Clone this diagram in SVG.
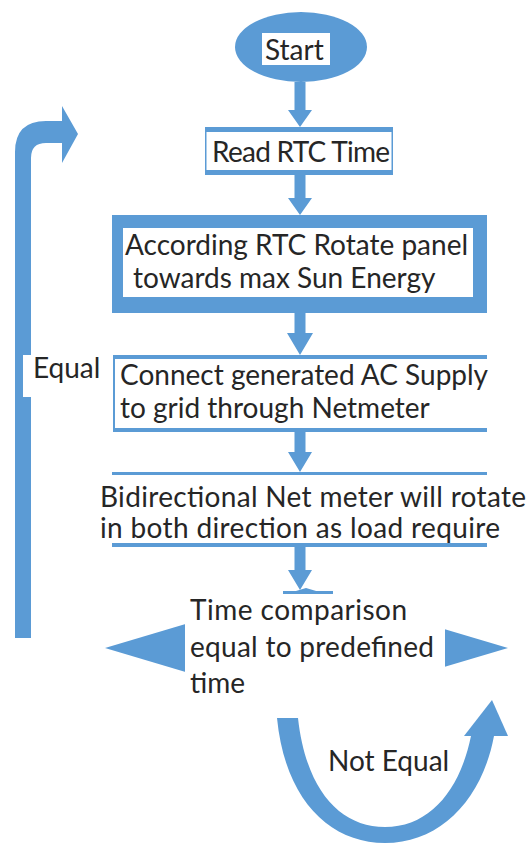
<svg xmlns="http://www.w3.org/2000/svg" width="529" height="844" viewBox="0 0 529 844">
<style>
.b{fill:#5b9bd5}
.w{fill:#ffffff}
.t{font-family:Lato,"Open Sans","Liberation Sans",sans-serif;font-size:28px;fill:#262626}
</style>
<rect width="529" height="844" fill="#ffffff"/>
<g id="connectors" class="b">
  <!-- Start -> Read RTC -->
  <polygon points="294.5,82 305.5,82 305.5,110 312,110 300,127 288,110 294.5,110"/>
  <!-- Read -> Rotate -->
  <polygon points="294.5,175 305.5,175 305.5,198 312,198 300,215 288,198 294.5,198"/>
  <!-- Rotate -> Connect -->
  <polygon points="294.5,313 305.5,313 305.5,333 313,333 300,355 287,333 294.5,333"/>
  <!-- Connect -> Bidirectional -->
  <polygon points="294.5,432 305.5,432 305.5,452 312,452 300,472 288,452 294.5,452"/>
  <!-- Bidirectional -> Decision -->
  <polygon points="294.5,547 305.5,547 305.5,570 312,570 300,590 288,570 294.5,570"/>
  <!-- Equal loop back -->
  <path d="M15 638 L15 152 Q15 121 46 121 L62 121 L62 106 L78 134 L62 163 L62 143 L46 143 Q31 143 31 158 L31 638 Z"/>
  <!-- Not Equal loop -->
  <path d="M277 718 C285 800 330 843 385 843 C440 843 482 800 494 736 L471 736 C460 790 430 827 385 827 C340 827 306 790 298 718 Z"/>
  <polygon points="464,736 508,736 492,700"/>
</g>
<g id="label-equal">
  <rect class="w" x="23" y="355" width="85" height="42"/>
  <text class="t" x="33" y="378">Equal</text>
</g>
<g id="label-not-equal">
  <text class="t" x="328" y="771">Not Equal</text>
</g>
<g id="start">
  <ellipse class="b" cx="301" cy="47" rx="66" ry="35"/>
  <rect class="w" x="262" y="33" width="68" height="32"/>
  <text class="t" x="265" y="60">Start</text>
</g>
<g id="read-rtc">
  <rect class="b" x="205" y="127" width="188" height="48"/>
  <rect class="w" x="206.5" y="132" width="185" height="38"/>
  <text class="t" x="212" y="162" textLength="178">Read RTC Time</text>
</g>
<g id="rotate-panel">
  <rect class="b" x="112" y="215" width="375" height="98"/>
  <rect class="w" x="123" y="228" width="350" height="69"/>
  <text class="t" x="125" y="255">According RTC Rotate panel</text>
  <text class="t" x="133" y="288">towards max Sun Energy</text>
</g>
<g id="connect-supply">
  <rect class="b" x="113" y="355" width="374" height="4"/>
  <rect class="b" x="113" y="428" width="374" height="4"/>
  <rect class="b" x="113" y="355" width="2" height="77"/>
  <text class="t" x="120" y="385">Connect generated AC Supply</text>
  <text class="t" x="120" y="418">to grid through Netmeter</text>
</g>
<g id="net-meter">
  <rect class="b" x="112" y="472" width="375" height="3"/>
  <rect class="b" x="112" y="543" width="375" height="4"/>
  <text class="t" x="100" y="507" textLength="426">Bidirectional Net meter will rotate</text>
  <text class="t" x="100" y="538" textLength="400">in both direction as load require</text>
</g>
<g id="decision">
  <polygon class="b" points="105,648 306,588 508,648 306,708"/>
  <rect class="b" x="283" y="591" width="50" height="3"/>
  <rect class="w" x="185" y="594" width="260" height="116"/>
  <text class="t" x="190" y="620" textLength="217">Time comparison</text>
  <text class="t" x="190" y="657" textLength="244">equal to predefined</text>
  <text class="t" x="190" y="693">time</text>
</g>
</svg>
